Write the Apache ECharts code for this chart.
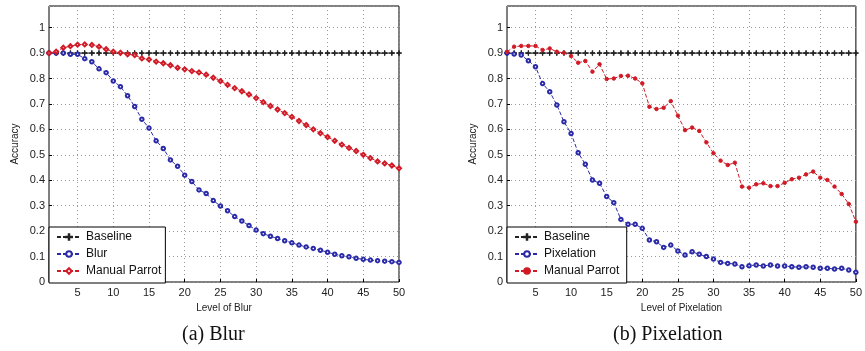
<!DOCTYPE html>
<html>
<head>
<meta charset="utf-8">
<script src="https://cdn.jsdelivr.net/npm/echarts@6/dist/echarts.min.js"></script>
<style>
  html, body { margin: 0; background: #fff; }
  #main { width: 865px; height: 351px; }
</style>
</head>
<body>
<div id="main"></div>
<script>
// x values (level of distortion)
const levels = [1, 2, 3, 4, 5, 6, 7, 8, 9, 10, 11, 12, 13, 14, 15, 16, 17, 18, 19, 20,
  21, 22, 23, 24, 25, 26, 27, 28, 29, 30, 31, 32, 33, 34, 35, 36, 37, 38, 39, 40,
  41, 42, 43, 44, 45, 46, 47, 48, 49, 50]
const xTicks = [5, 10, 15, 20, 25, 30, 35, 40, 45, 50]
const baselineValue = 0.9

// (a) Blur
const blurAcc = [0.90, 0.90, 0.90, 0.895, 0.895, 0.878, 0.866, 0.838, 0.823, 0.79,
  0.768, 0.732, 0.69, 0.64, 0.605, 0.555, 0.525, 0.48, 0.455, 0.42,
  0.395, 0.362, 0.348, 0.32, 0.299, 0.28, 0.257, 0.24, 0.222, 0.204,
  0.19, 0.18, 0.171, 0.162, 0.154, 0.145, 0.138, 0.132, 0.125, 0.117,
  0.109, 0.103, 0.099, 0.093, 0.089, 0.086, 0.084, 0.082, 0.08, 0.077]
const blurParrot = [0.90, 0.905, 0.921, 0.927, 0.933, 0.934, 0.932, 0.925, 0.915, 0.905,
  0.901, 0.895, 0.892, 0.879, 0.875, 0.866, 0.86, 0.852, 0.842, 0.836,
  0.829, 0.824, 0.815, 0.803, 0.79, 0.775, 0.762, 0.75, 0.737, 0.723,
  0.707, 0.692, 0.678, 0.664, 0.649, 0.633, 0.617, 0.6, 0.585, 0.57,
  0.555, 0.54, 0.527, 0.515, 0.5, 0.487, 0.474, 0.466, 0.458, 0.447]

// (b) Pixelation
const pixAcc = [0.90, 0.896, 0.892, 0.87, 0.846, 0.78, 0.748, 0.696, 0.63, 0.584,
  0.508, 0.463, 0.401, 0.388, 0.336, 0.312, 0.246, 0.227, 0.227, 0.211,
  0.165, 0.158, 0.136, 0.145, 0.122, 0.106, 0.119, 0.109, 0.1, 0.09,
  0.077, 0.073, 0.071, 0.06, 0.064, 0.067, 0.063, 0.067, 0.063, 0.063,
  0.06, 0.058, 0.06, 0.058, 0.054, 0.054, 0.051, 0.054, 0.047, 0.038]
const pixParrot = [0.905, 0.925, 0.928, 0.928, 0.928, 0.912, 0.918, 0.905, 0.901, 0.888,
  0.862, 0.869, 0.827, 0.856, 0.798, 0.8, 0.81, 0.811, 0.8, 0.781,
  0.689, 0.68, 0.685, 0.711, 0.654, 0.597, 0.607, 0.594, 0.549, 0.506,
  0.477, 0.46, 0.469, 0.375, 0.371, 0.384, 0.388, 0.377, 0.377, 0.39,
  0.404, 0.41, 0.423, 0.434, 0.41, 0.401, 0.375, 0.346, 0.307, 0.237]

const BLUE = '#2a2aa8'
const RED = '#d01a26'
const BLACK = '#222'
const plusSymbol = 'path://M0,4.55H10V5.45H0ZM4.55,0H5.45V10H4.55Z'
const FONT = 'Liberation Sans'

const pairs = vals => levels.map((x, i) => [x, vals[i]])

function xAxisFor(idx, name) {
  return {
    type: 'value', gridIndex: idx, min: 1, max: 50,
    name: name, nameLocation: 'middle', nameGap: 14,
    nameTextStyle: { fontFamily: FONT, fontSize: 10, color: '#222' },
    axisLine: { show: false },
    axisTick: { inside: true, length: 3, customValues: xTicks, lineStyle: { color: '#000' } },
    axisLabel: { customValues: xTicks, fontFamily: FONT, fontSize: 11, color: '#222', margin: 5 },
    splitLine: { show: true, lineStyle: { type: [1, 3], color: '#999' } }
  }
}

function yAxisFor(idx) {
  return {
    type: 'value', gridIndex: idx, min: 0, max: 1.085, interval: 0.1,
    name: 'Accuracy', nameLocation: 'middle', nameGap: 29, nameRotate: 90,
    nameTextStyle: { fontFamily: FONT, fontSize: 10, color: '#222' },
    axisLine: { show: false },
    axisTick: { inside: true, length: 3, lineStyle: { color: '#000' } },
    axisLabel: { showMaxLabel: false, fontFamily: FONT, fontSize: 11, color: '#222', margin: 4 },
    splitLine: { show: true, lineStyle: { type: [1, 3], color: '#999' } }
  }
}

function lineSeries(name, idx, vals, color, symbol, size) {
  return {
    name: name, type: 'line', xAxisIndex: idx, yAxisIndex: idx,
    data: pairs(vals),
    symbol: symbol, symbolSize: size,
    lineStyle: { color: color, width: 1, type: [4, 2] },
    itemStyle: { color: color, borderColor: color, borderWidth: 1 },
    animation: false
  }
}

const baseline = levels.map(() => baselineValue)

const legendBase = {
  orient: 'vertical',
  backgroundColor: '#fff',
  borderColor: '#000',
  borderWidth: 1,
  borderRadius: 0,
  padding: [3, 4, 5, 7],
  itemWidth: 24,
  itemHeight: 7,
  itemGap: 3,
  textStyle: { fontFamily: FONT, fontSize: 12, color: '#111', lineHeight: 14 }
}

const chart = echarts.init(document.getElementById('main'))
chart.setOption({
  backgroundColor: '#fff',
  animation: false,
  grid: [
    { left: 49, top: 6, width: 350, height: 276, show: true, borderColor: '#000', borderWidth: 1, backgroundColor: 'transparent' },
    { left: 507, top: 6, width: 351, height: 276, show: true, borderColor: '#000', borderWidth: 1, backgroundColor: 'transparent' }
  ],
  xAxis: [xAxisFor(0, 'Level of Blur'), xAxisFor(1, 'Level of Pixelation')],
  yAxis: [yAxisFor(0), yAxisFor(1)],
  legend: [
    Object.assign({}, legendBase, { left: 49, top: 227, data: ['Baseline', 'Blur', 'Manual Parrot'] }),
    Object.assign({}, legendBase, { left: 507, top: 227, data: ['Baseline ', 'Pixelation', 'Manual Parrot '] })
  ],
  series: [
    lineSeries('Baseline', 0, baseline, BLACK, plusSymbol, 5),
    lineSeries('Blur', 0, blurAcc, BLUE, 'emptyCircle', 3.5),
    lineSeries('Manual Parrot', 0, blurParrot, RED, 'emptyDiamond', 4),
    lineSeries('Baseline ', 1, baseline, BLACK, plusSymbol, 5),
    lineSeries('Pixelation', 1, pixAcc, BLUE, 'emptyCircle', 3.5),
    lineSeries('Manual Parrot ', 1, pixParrot, RED, 'circle', 3.5)
  ],
  graphic: [
    { type: 'text', left: 182, top: 325, style: { text: '(a) Blur', font: '20px "Liberation Serif"', fill: '#111' } },
    { type: 'text', left: 613, top: 325, style: { text: '(b) Pixelation', font: '20px "Liberation Serif"', fill: '#111' } }
  ]
})
</script>
</body>
</html>
